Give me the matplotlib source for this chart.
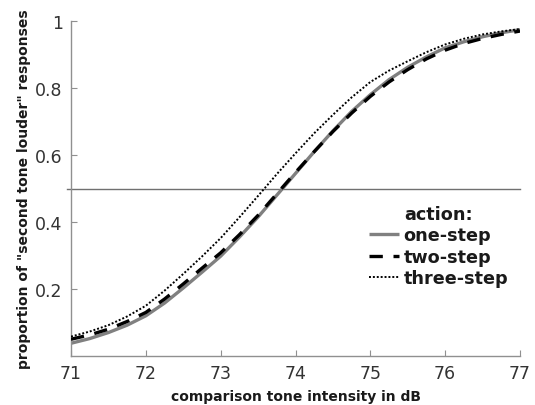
import matplotlib
matplotlib.use("Agg")
import matplotlib.pyplot as plt

x_db = [71.0, 71.25, 71.5, 71.75, 72.0, 72.25, 72.5, 72.75, 73.0, 73.25, 73.5, 73.75,
        74.0, 74.25, 74.5, 74.75, 75.0, 75.25, 75.5, 75.75, 76.0, 76.25, 76.5, 76.75, 77.0]
one_step = [0.038, 0.052, 0.070, 0.092, 0.120, 0.158, 0.203, 0.250, 0.298, 0.355, 0.415, 0.480,
            0.545, 0.610, 0.672, 0.730, 0.780, 0.825, 0.862, 0.893, 0.920, 0.938, 0.953, 0.965, 0.974]
two_step = [0.050, 0.063, 0.080, 0.103, 0.130, 0.170, 0.215, 0.262, 0.308, 0.362, 0.420, 0.484,
            0.548, 0.610, 0.670, 0.725, 0.775, 0.818, 0.855, 0.887, 0.913, 0.933, 0.948, 0.960, 0.970]
three_step = [0.058, 0.073, 0.092, 0.118, 0.150, 0.195, 0.245, 0.297, 0.352, 0.414, 0.478, 0.543,
              0.605, 0.665, 0.720, 0.772, 0.818, 0.852, 0.880, 0.907, 0.930, 0.947, 0.960, 0.969, 0.976]
x_ticks = [71, 72, 73, 74, 75, 76, 77]
y_ticks = [0.2, 0.4, 0.6, 0.8, 1.0]
y_tick_labels = ["0.2", "0.4", "0.6", "0.8", "1"]
criterion = 0.5

fig = plt.figure(figsize=(5.35, 4.06), dpi=100)
ax = fig.add_axes([0.1327, 0.1207, 0.8393, 0.8251])

ax.axhline(criterion, xmin=-0.009, xmax=1.0, color="#707070", lw=1.0, clip_on=False, zorder=1)
ax.plot(x_db, one_step, color="#808080", lw=2.4, solid_capstyle="butt", label="one-step", zorder=2)
ax.plot(x_db, two_step, color="black", lw=2.4, dashes=(4.0, 3.2), label="two-step", zorder=3)
ax.plot(x_db, three_step, color="black", lw=1.4, dashes=(1.0, 1.0), label="three-step", zorder=4)

ax.set_xlim(71, 77)
ax.set_ylim(0, 1)
ax.set_xticks(x_ticks)
ax.set_yticks(y_ticks)
ax.set_yticklabels(y_tick_labels)

for s in ["top", "right"]:
    ax.spines[s].set_visible(False)
for s in ["left", "bottom"]:
    ax.spines[s].set_color("#909090")
    ax.spines[s].set_linewidth(1.0)

ax.tick_params(direction="in", length=4, width=0.8, color="#909090",
               labelsize=12.5, labelcolor="#333333", pad=6)

ax.set_xlabel("comparison tone intensity in dB", fontsize=10, fontweight="bold",
              color="#1a1a1a", labelpad=5)
ax.set_ylabel('proportion of "second tone louder" responses', fontsize=10,
              fontweight="bold", color="#1a1a1a", labelpad=3)

leg = ax.legend(loc="upper left", bbox_to_anchor=(0.644, 0.478), frameon=False,
                title="action:", borderpad=0, handlelength=1.7, handletextpad=0.25,
                labelspacing=0.2, prop={"weight": "bold", "size": 12.7})
leg.get_title().set_fontweight("bold")
leg.get_title().set_fontsize(12.7)
for t in leg.get_texts():
    t.set_color("#1a1a1a")
leg.get_title().set_color("#1a1a1a")

fig.savefig("out.png", dpi=100)
